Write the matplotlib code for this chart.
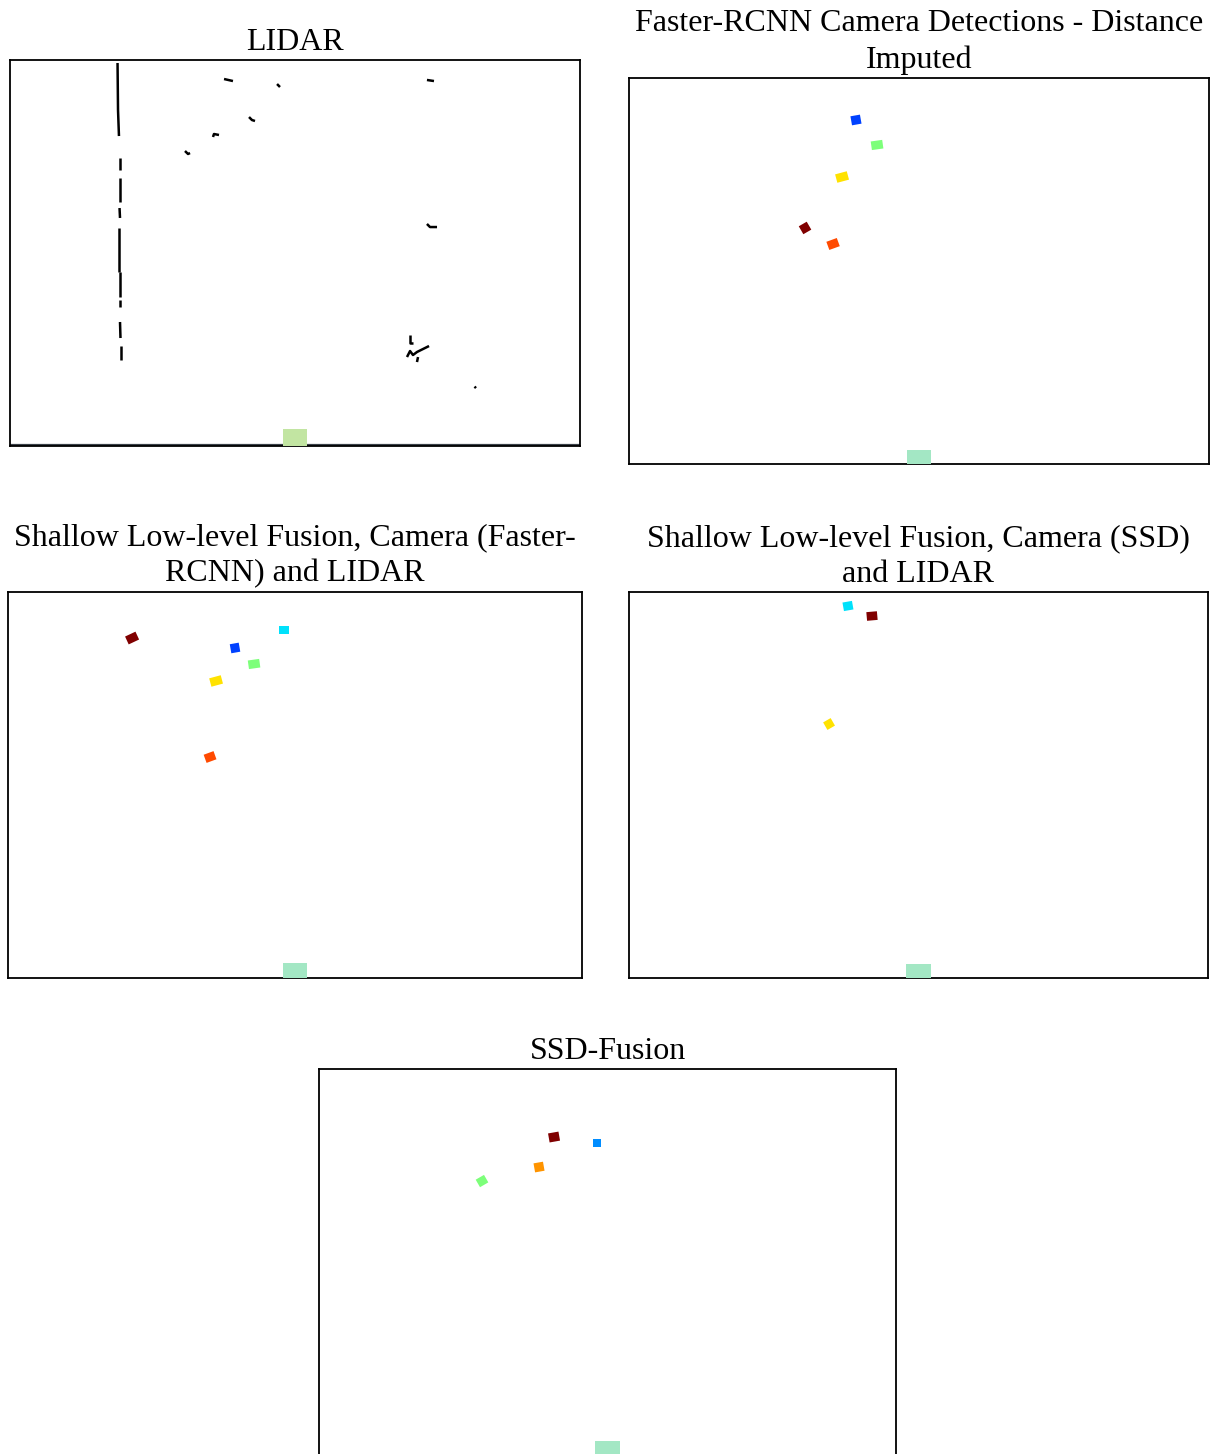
import matplotlib
matplotlib.use("Agg")
import matplotlib.pyplot as plt
from matplotlib.patches import Rectangle

plt.rcParams['font.family'] = ['Liberation Serif', 'DejaVu Serif']

# ---------------- data (metres, ego at origin) ----------------
titles = [
    "LIDAR",
    "Faster-RCNN Camera Detections - Distance\nImputed",
    "Shallow Low-level Fusion, Camera (Faster-\nRCNN) and LIDAR",
    "Shallow Low-level Fusion, Camera (SSD)\nand LIDAR",
    "SSD-Fusion",
]

# LIDAR returns as short polylines: (xs, ys)
lidar_segments = [
    ([-18.68, -18.63], [39.69, 34.82]),
    ([-18.63, -18.53], [34.82, 32.12]),
    ([-18.42, -18.42], [29.84, 28.60]),
    ([-18.42, -18.42], [27.77, 25.28]),
    ([-18.47, -18.42], [24.66, 23.63]),
    ([-18.53, -18.53], [22.59, 18.03]),
    ([-18.42, -18.42], [18.03, 15.44]),
    ([-18.42, -18.42], [15.13, 14.40]),
    ([-18.42, -18.37], [12.85, 11.19]),
    ([-18.32, -18.32], [10.36, 8.91]),
    ([-7.47, -6.53], [38.03, 37.82]),
    ([-1.89, -1.58], [37.51, 37.20]),
    ([-4.84, -4.53, -4.21], [34.09, 33.78, 33.68]),
    ([-8.63, -8.53, -8.00], [32.02, 32.33, 32.23]),
    ([-11.58, -11.26, -11.05], [30.57, 30.26, 30.36]),
    ([13.89, 14.63], [37.93, 37.82]),
    ([13.89, 14.21, 14.95], [23.01, 22.69, 22.69]),
    ([12.11, 12.11, 12.42], [11.50, 10.67, 10.67]),
    ([11.79, 12.11, 12.42, 12.84, 14.11], [9.22, 9.84, 9.43, 9.74, 10.36]),
    ([12.84, 12.95], [8.70, 9.22]),
    ([18.90, 19.05], [6.16, 6.00]),
]
ground_x = [-30.0, -2.0, 6.0, 30.0]
ground_y = [0.15, 0.15, 0.15, 0.15]

# detections per fused panel: x, y, jet value, angle (deg), size
det_frcnn_x = [-6.52, -4.34, -7.96, -11.79, -8.89]
det_frcnn_y = [35.65, 33.06, 29.74, 24.46, 22.80]
det_frcnn_c = [0.19, 0.50, 0.67, 1.00, 0.83]
det_frcnn_a = [10, 8, 15, 30, 20]
det_frcnn_w = [1.00, 1.20, 1.25, 0.95, 1.15]
det_frcnn_h = [0.95, 0.90, 0.90, 0.95, 0.90]

det_shfr_x = [-17.03, -1.15, -6.27, -4.28, -8.25, -8.88]
det_shfr_y = [35.23, 36.06, 34.20, 32.54, 30.78, 22.90]
det_shfr_c = [1.00, 0.345, 0.19, 0.50, 0.67, 0.83]
det_shfr_a = [25, 0, 10, 8, 15, 20]
det_shfr_w = [1.20, 1.10, 0.95, 1.20, 1.25, 1.10]
det_shfr_h = [0.90, 0.85, 0.95, 0.90, 0.90, 0.90]

det_shssd_x = [-7.31, -4.82, -9.27]
det_shssd_y = [38.55, 37.51, 26.32]
det_shssd_c = [0.345, 1.00, 0.67]
det_shssd_a = [10, 5, 30]
det_shssd_w = [1.00, 1.10, 0.90]
det_shssd_h = [0.90, 0.90, 0.90]

det_ssdf_x = [-5.56, -1.09, -7.12, -13.05]
det_ssdf_y = [32.95, 32.33, 29.84, 28.39]
det_ssdf_c = [1.00, 0.265, 0.75, 0.50]
det_ssdf_a = [10, 0, 10, 30]
det_ssdf_w = [1.10, 0.85, 1.00, 1.00]
det_ssdf_h = [0.95, 0.85, 0.95, 0.90]

ego_w = 2.5
ego_h = [1.75, 1.40, 1.55, 1.45, 1.45]
ego_colors = ['#c2e5a2', '#a3e7c4', '#a3e7c4', '#a3e7c4', '#a3e7c4']

# ---------------- layout ----------------
W, H = 1210, 1454
fig = plt.figure(figsize=(W / 100, H / 100), dpi=100)

boxes_px = [  # left, top, right, bottom in pixels
    (10, 60, 580, 446),
    (629, 78, 1209, 464),
    (8, 592, 582, 978),
    (629, 592, 1208, 978),
    (319, 1069, 896, 1455),
]

axes = []
for (l, t, r, b) in boxes_px:
    ax = fig.add_axes([l / W, (H - b) / H, (r - l) / W, (b - t) / H])
    ax.set_xlim(-30, 30)
    ax.set_ylim(0, 40)
    ax.set_xticks([])
    ax.set_yticks([])
    for s in ax.spines.values():
        s.set_linewidth(1.3)
        s.set_color('black')
    axes.append(ax)

for ax, t in zip(axes, titles):
    ax.set_title(t, fontsize=23, pad=7.5, linespacing=1.3)

# LIDAR panel
ax = axes[0]
for xs, ys in lidar_segments:
    ax.plot(xs, ys, color='black', lw=1.8, solid_capstyle='butt')
ax.plot(ground_x, ground_y, color='#3a4048', lw=1.6)

# ego vehicles
for ax, eh, ec in zip(axes, ego_h, ego_colors):
    ax.add_patch(Rectangle((-ego_w / 2, 0), ego_w, eh, facecolor=ec,
                           edgecolor='none', zorder=3))

det_sets = [
    (det_frcnn_x, det_frcnn_y, det_frcnn_c, det_frcnn_a, det_frcnn_w, det_frcnn_h),
    (det_shfr_x, det_shfr_y, det_shfr_c, det_shfr_a, det_shfr_w, det_shfr_h),
    (det_shssd_x, det_shssd_y, det_shssd_c, det_shssd_a, det_shssd_w, det_shssd_h),
    (det_ssdf_x, det_ssdf_y, det_ssdf_c, det_ssdf_a, det_ssdf_w, det_ssdf_h),
]
cmap = plt.cm.jet
for ax, (xs, ys, cs, angs, ws, hs) in zip(axes[1:], det_sets):
    for x, y, c, a, w, h in zip(xs, ys, cs, angs, ws, hs):
        ax.add_patch(Rectangle((x - w / 2, y - h / 2), w, h, angle=a,
                               rotation_point='center', facecolor=cmap(c),
                               edgecolor='none', zorder=4))

fig.savefig('out.png', dpi=100)
